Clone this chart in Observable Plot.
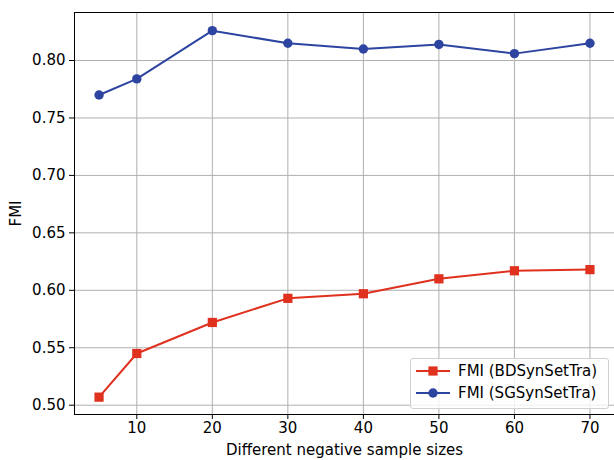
<!DOCTYPE html>
<html>
<head>
<meta charset="utf-8">
<script src="https://cdn.jsdelivr.net/npm/d3@7"></script>
<script src="https://cdn.jsdelivr.net/npm/@observablehq/plot@0.6"></script>
<style>
  body { margin: 0; background: white; }
  #wrap { position: relative; width: 614px; height: 460px; font-family: "DejaVu Sans", sans-serif; }
  #legend { position: absolute; left: 410px; top: 358px; width: 197px; height: 49px;
    border: 1px solid #d0d0d0; border-radius: 3px; background: rgba(255,255,255,0.8);
    font-size: 15px; color: #000; }
  .row { position: absolute; left: 0; height: 20px; display: flex; align-items: center; }
  .row svg { margin-left: 4px; }
  .row span { margin-left: 7px; white-space: nowrap; }
</style>
</head>
<body>
<div id="wrap"></div>
<script>
const sampleSizes = [5, 10, 20, 30, 40, 50, 60, 70];
const fmiBD = [0.507, 0.545, 0.572, 0.593, 0.597, 0.610, 0.617, 0.618];
const fmiSG = [0.770, 0.784, 0.826, 0.815, 0.810, 0.814, 0.806, 0.815];
const seriesNames = ["FMI (BDSynSetTra)", "FMI (SGSynSetTra)"];
const xTicks = [10, 20, 30, 40, 50, 60, 70];
const yTicks = [0.50, 0.55, 0.60, 0.65, 0.70, 0.75, 0.80];
const xLabel = "Different negative sample sizes";
const yLabel = "FMI";

const red = "#e0301e";
const blue = "#2d44a0";

const bd = sampleSizes.map((x, i) => ({x, y: fmiBD[i]}));
const sg = sampleSizes.map((x, i) => ({x, y: fmiSG[i]}));

const xDomain = [1.75, 73.25];
const yDomain = [0.4919, 0.8418];

const chart = Plot.plot({
  width: 614, height: 460,
  marginLeft: 74, marginRight: 0, marginTop: 12, marginBottom: 46,
  x: {domain: xDomain},
  y: {domain: yDomain},
  style: {fontFamily: "DejaVu Sans", fontSize: "15px", color: "#000", background: "white", overflow: "visible"},
  marks: [
    Plot.gridX(xTicks, {stroke: "#b0b0b0", strokeOpacity: 1, strokeWidth: 1}),
    Plot.gridY(yTicks, {stroke: "#b0b0b0", strokeOpacity: 1, strokeWidth: 1}),
    Plot.axisX(xTicks, {tickSize: 5, tickPadding: 3, tickFormat: d => d, label: xLabel, labelAnchor: "center", labelOffset: 40, labelArrow: "none"}),
    Plot.axisY(yTicks, {tickSize: 5, tickPadding: 4, tickFormat: d3.format(".2f"), label: yLabel, labelAnchor: "center", labelOffset: 64, labelArrow: "none"}),
    Plot.ruleX([xDomain[0]], {stroke: "#000", strokeWidth: 1}),
    Plot.ruleY([yDomain[0]], {stroke: "#000", strokeWidth: 1}),
    Plot.ruleY([yDomain[1]], {stroke: "#000", strokeWidth: 1}),
    Plot.line(bd, {x: "x", y: "y", stroke: red, strokeWidth: 2}),
    Plot.dot(bd, {x: "x", y: "y", symbol: "square", r: 5.2, fill: red, stroke: "none"}),
    Plot.line(sg, {x: "x", y: "y", stroke: blue, strokeWidth: 2}),
    Plot.dot(sg, {x: "x", y: "y", symbol: "circle", r: 4.7, fill: blue, stroke: "none"})
  ]
});

const wrap = document.getElementById("wrap");
wrap.appendChild(chart);

const legend = document.createElement("div");
legend.id = "legend";
const colors = [red, blue];
const markers = [
  c => `<rect x="13.4" y="5.4" width="9.2" height="9.2" fill="${c}"/>`,
  c => `<circle cx="18" cy="10" r="4.7" fill="${c}"/>`
];
seriesNames.forEach((name, i) => {
  const row = document.createElement("div");
  row.className = "row";
  row.style.top = (i === 0 ? 2 : 24) + "px";
  row.innerHTML = `<svg width="36" height="20"><line x1="1" x2="35" y1="10" y2="10" stroke="${colors[i]}" stroke-width="2"/>${markers[i](colors[i])}</svg><span>${name}</span>`;
  legend.appendChild(row);
});
wrap.appendChild(legend);
</script>
</body>
</html>
